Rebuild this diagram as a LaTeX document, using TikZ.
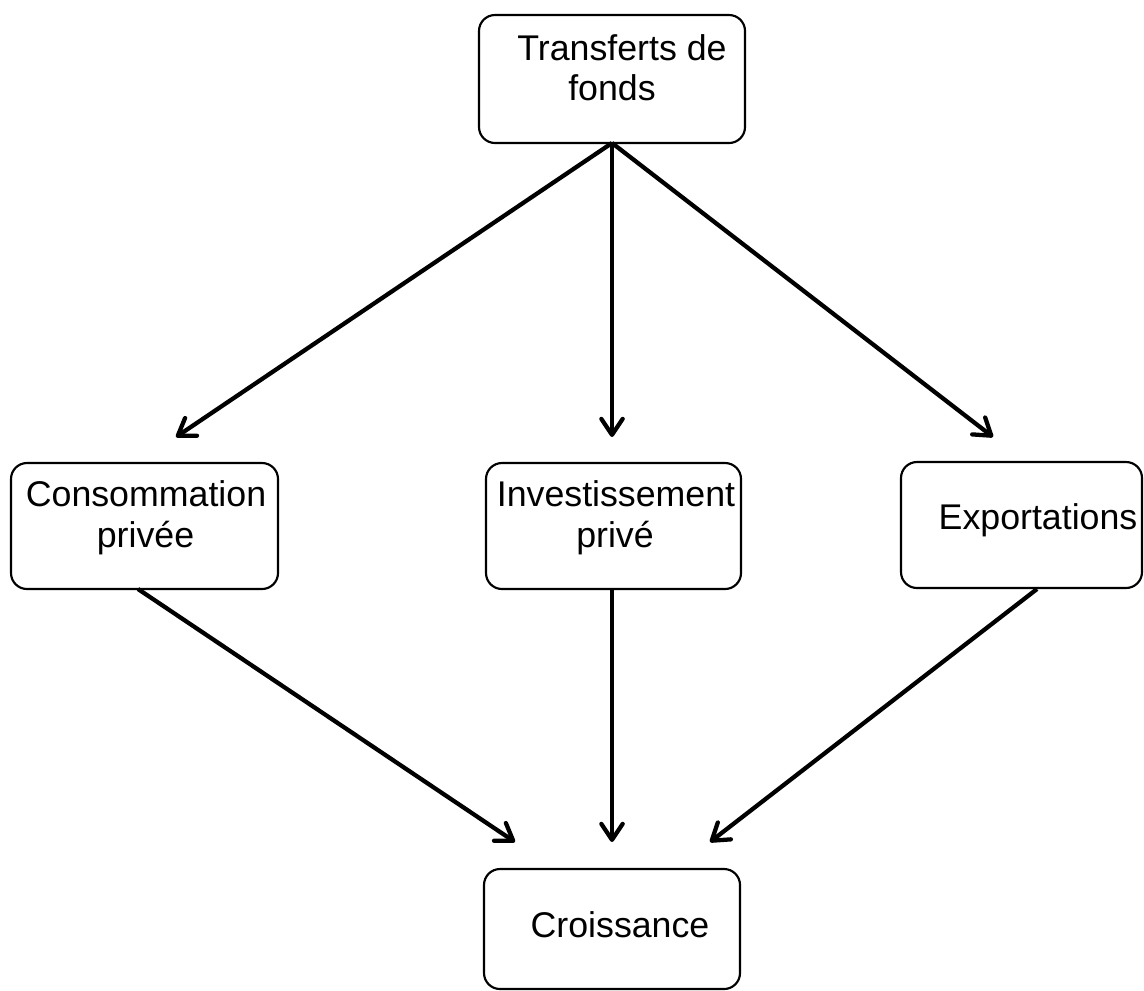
\documentclass[tikz,border=0pt]{standalone}
\usepackage{fontspec}
\setmainfont{Liberation Sans}
\usetikzlibrary{arrows.meta}
\begin{document}
\begin{tikzpicture}[x=0.75pt,y=-0.75pt,
  box/.style={draw=black, line width=1.6pt, rounded corners=12pt, inner sep=0pt, outer sep=0pt},
  lbl/.style={anchor=base, inner sep=0pt, font=\fontsize{26.8}{30.8}\selectfont},
  conn/.style={line width=3.2pt, -{Straight Barb[length=12pt,width=16pt,round]}}]
\useasboundingbox (0,0) rectangle (1144,990);
% boxes
\node[box, minimum width=199.5pt, minimum height=96pt] (top) at (612,79) {};
\node[box, minimum width=200.25pt, minimum height=94.5pt] (cons) at (144.5,526) {};
\node[box, minimum width=191.25pt, minimum height=94.5pt] (inv) at (613.5,526) {};
\node[box, minimum width=180.75pt, minimum height=94.5pt] (exp) at (1021.5,525) {};
\node[box, minimum width=192pt, minimum height=90pt] (cro) at (612,929) {};
% labels
\node[lbl] (t1) at (622,60) {Transferts de};
\node[lbl] (t2) at (612,100) {fonds};
\node[lbl] (c1) at (146,506) {Consommation};
\node[lbl] (c2) at (145.5,547) {privée};
\node[lbl] (i1) at (616,506) {Investissement};
\node[lbl] (i2) at (615,547) {privé};
\node[lbl] (e1) at (1038,529) {Exportations};
\node[lbl] (r1) at (620,937) {Croissance};
% connector ends
\coordinate (tcons) at (176,437);
\coordinate (tinv) at (612,437);
\coordinate (texp) at (993,437);
\coordinate (ocons) at (138,589);
\coordinate (oinv) at (612,589);
\coordinate (oexp) at (1037,589);
\coordinate (rcons) at (515,842);
\coordinate (rinv) at (612,842);
\coordinate (rexp) at (710,842);
% connectors
\draw[conn] (top.south) -- (tcons);
\draw[conn] (top.south) -- (tinv);
\draw[conn] (top.south) -- (texp);
\draw[conn] (ocons) -- (rcons);
\draw[conn] (oinv) -- (rinv);
\draw[conn] (oexp) -- (rexp);
\end{tikzpicture}
\end{document}
